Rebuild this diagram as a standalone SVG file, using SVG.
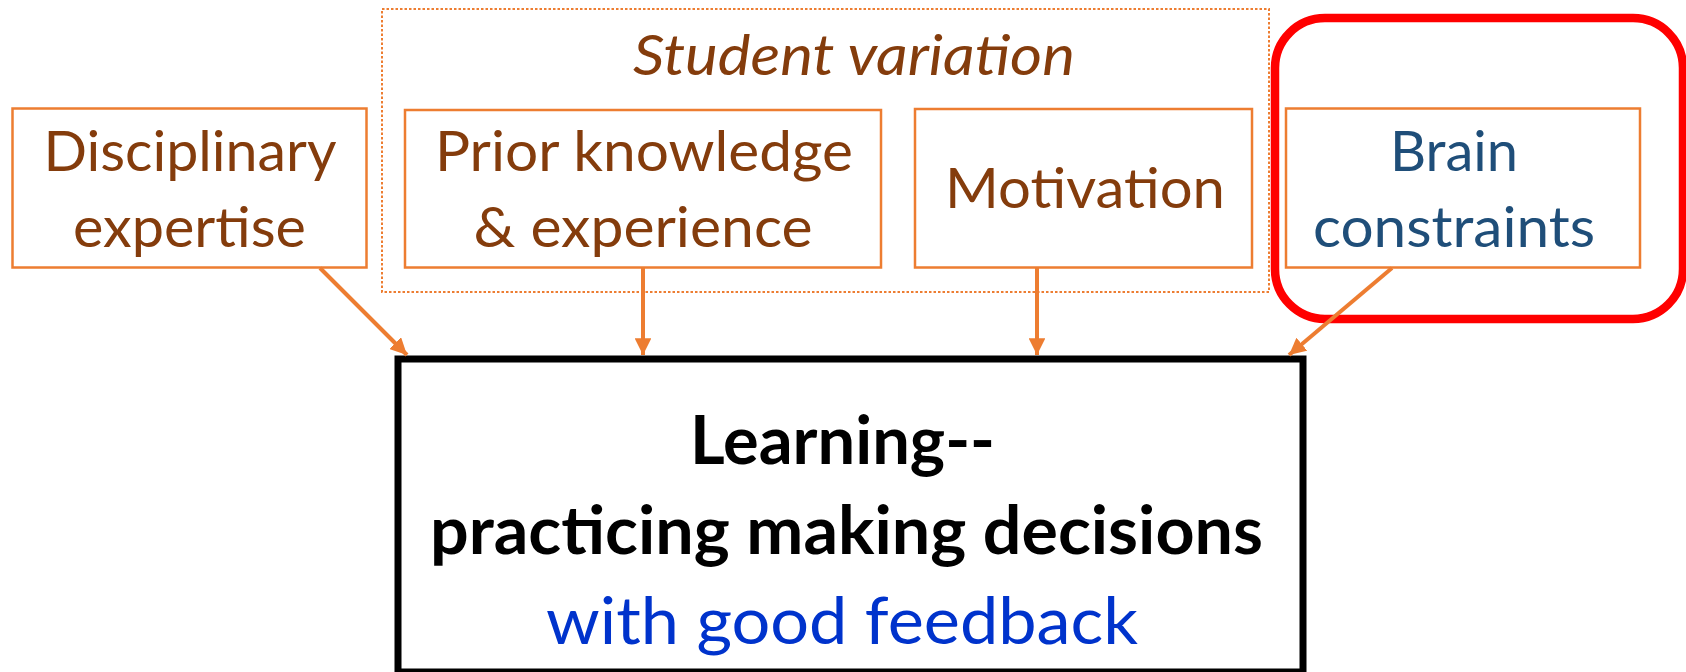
<svg xmlns="http://www.w3.org/2000/svg" width="1686" height="672" viewBox="0 0 1686 672">
<defs>
<style>
.box{fill:#FFFFFF;stroke:#ED7D31;stroke-width:2.5}
.lbl{font-family:Lato,"Liberation Sans",sans-serif;font-size:56px;fill:#843C0C;text-anchor:middle}
.blue{fill:#1F4E79}
.main{font-family:Lato,"Liberation Sans",sans-serif;font-size:66px;text-anchor:middle}
.conn{stroke:#ED7D31;stroke-width:4;fill:none;marker-end:url(#ah)}
</style>
<marker id="ah" viewBox="0 0 10 10" refX="10" refY="5" markerWidth="4.2" markerHeight="4.2" orient="auto" markerUnits="strokeWidth">
<path d="M0,0 L10,5 L0,10 z" fill="#ED7D31"/>
</marker>
</defs>
<rect width="1686" height="672" fill="#FFFFFF"/>
<g id="student-variation">
<rect x="382" y="9" width="887" height="283" fill="none" stroke="#ED7D31" stroke-width="2" stroke-dasharray="2.5,2"/>
<text x="854" y="75" class="lbl" font-style="italic" textLength="442" lengthAdjust="spacingAndGlyphs">Student variation</text>
</g>
<g id="brain-highlight">
<rect x="1275" y="18" width="408" height="301" rx="50" ry="50" fill="none" stroke="#FF0000" stroke-width="8.5"/>
</g>
<g id="disciplinary">
<rect class="box" x="12.5" y="108.5" width="354" height="159"/>
<text class="lbl" x="190" y="171" textLength="293" lengthAdjust="spacingAndGlyphs">Disciplinary</text>
<text class="lbl" x="189.5" y="246.5" textLength="233" lengthAdjust="spacingAndGlyphs">expertise</text>
</g>
<g id="prior">
<rect class="box" x="405" y="110" width="476" height="157.5"/>
<text class="lbl" x="644" y="171" textLength="418" lengthAdjust="spacingAndGlyphs">Prior knowledge</text>
<text class="lbl" x="643" y="246.5" textLength="339" lengthAdjust="spacingAndGlyphs">&amp; experience</text>
</g>
<g id="motivation">
<rect class="box" x="915" y="109" width="337" height="158.5"/>
<text class="lbl" x="1085" y="208" textLength="280" lengthAdjust="spacingAndGlyphs">Motivation</text>
</g>
<g id="brain">
<rect class="box" x="1286" y="108.5" width="354" height="159"/>
<text class="lbl blue" x="1454" y="170.5" textLength="128" lengthAdjust="spacingAndGlyphs">Brain</text>
<text class="lbl blue" x="1454" y="247" textLength="282" lengthAdjust="spacingAndGlyphs">constraints</text>
</g>
<g id="learning">
<rect x="398" y="359" width="905" height="313" fill="#FFFFFF" stroke="#000000" stroke-width="7"/>
<text class="main" x="842.5" y="464" font-weight="bold" fill="#000000" textLength="305" lengthAdjust="spacingAndGlyphs">Learning--</text>
<text class="main" x="846.5" y="554" font-weight="bold" fill="#000000" textLength="833" lengthAdjust="spacingAndGlyphs">practicing making decisions</text>
<text class="main" x="842" y="644" fill="#0033CC" textLength="592" lengthAdjust="spacingAndGlyphs">with good feedback</text>
</g>
<g id="connectors">
<line class="conn" x1="320" y1="268" x2="407" y2="355"/>
<line class="conn" x1="643" y1="268" x2="643" y2="355"/>
<line class="conn" x1="1037" y1="268" x2="1037" y2="355"/>
<line class="conn" x1="1392" y1="268" x2="1289" y2="355"/>
</g>
</svg>
